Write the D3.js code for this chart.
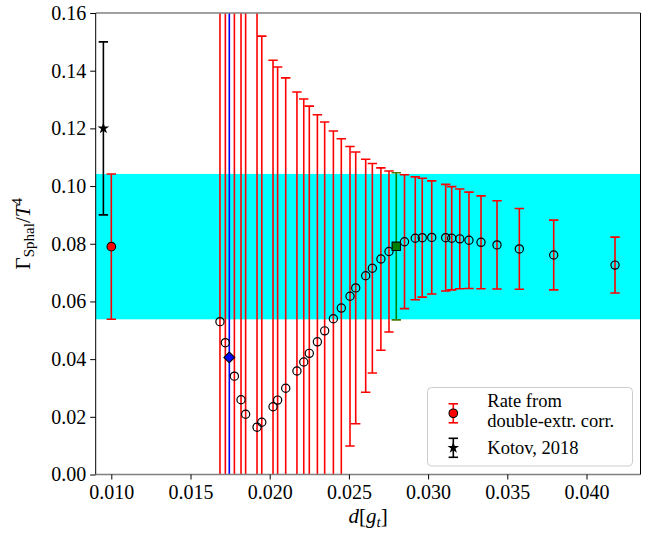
<!DOCTYPE html>
<html>
<head>
<meta charset="utf-8">
<script src="https://cdn.jsdelivr.net/npm/d3@7"></script>
<style>
  body { margin: 0; background: #fff; }
  svg { display: block; }
</style>
</head>
<body>
<svg id="chart" width="659" height="535"></svg>
<script>
// Sphaleron rate from the double-extrapolated correlator, per lattice spacing d[g_t]
const dValues = [0.01686, 0.01720, 0.01777, 0.01819, 0.01848, 0.01920, 0.01950, 0.02021,
  0.02050, 0.02101, 0.02172, 0.02215, 0.02250, 0.02301, 0.02347, 0.02402, 0.02452, 0.02507,
  0.02543, 0.02606, 0.02648, 0.02702, 0.02753, 0.02851, 0.02919, 0.02963, 0.03023, 0.03111,
  0.03149, 0.03200, 0.03258, 0.03334, 0.03435, 0.03576, 0.03793, 0.04180];
const rateValues = [0.0530, 0.0457, 0.0341, 0.0259, 0.0209, 0.0164, 0.0181, 0.0235,
  0.0258, 0.0299, 0.0359, 0.0390, 0.0420, 0.0460, 0.0498, 0.0540, 0.0577, 0.0618,
  0.0647, 0.0689, 0.0715, 0.0747, 0.0773, 0.0807, 0.0819, 0.0821, 0.0822, 0.0821,
  0.0819, 0.0817, 0.0812, 0.0805, 0.0796, 0.0782, 0.0761, 0.0726];
const rateErrors = [0.30, 0.29, 0.27, 0.24, 0.20, 0.17, 0.1339, 0.1201,
  0.1155, 0.1076, 0.0967, 0.0912, 0.0857, 0.0787, 0.0724, 0.0651, 0.0587, 0.0519,
  0.0471, 0.0404, 0.0363, 0.0316, 0.0279, 0.0232, 0.0213, 0.0206, 0.0196, 0.0185,
  0.0179, 0.0173, 0.0167, 0.0161, 0.0153, 0.0140, 0.0121, 0.0097];

// Continuum result (filled red point) and its band
const finalD = [0.0100];
const finalRate = [0.0790];
const finalErr = [0.0252];
const bandRange = [0.0538, 0.1042];

// Highlighted spacings
const blueD = [0.01745];
const blueRate = [0.0406];
const blueErr = [0.28];
const greenD = [0.02799];
const greenRate = [0.0791];
const greenErr = [0.0255];

// Kotov, 2018
const kotovD = [0.0095];
const kotovRate = [0.120];
const kotovErr = [0.030];

const xTicks = [0.010, 0.015, 0.020, 0.025, 0.030, 0.035, 0.040];
const yTicks = [0.00, 0.02, 0.04, 0.06, 0.08, 0.10, 0.12, 0.14, 0.16];
const xDomain = [0.009015, 0.043409];
const yDomain = [0, 0.16];

const legendLabels = [["Rate from", "double-extr. corr."], ["Kotov, 2018"]];

// ---------------------------------------------------------------
const FONT = "Liberation Serif";
const svg = d3.select("#chart");
const plot = { left: 95.7, right: 640.5, top: 13, bottom: 474.5 };

const x = d3.scaleLinear().domain(xDomain).range([plot.left, plot.right]);
const y = d3.scaleLinear().domain(yDomain).range([plot.bottom, plot.top]);

svg.append("defs").append("clipPath").attr("id", "plotClip")
  .append("rect")
  .attr("x", plot.left).attr("y", plot.top)
  .attr("width", plot.right - plot.left).attr("height", plot.bottom - plot.top);

const area = svg.append("g").attr("clip-path", "url(#plotClip)");

// uncertainty band of the final result
area.append("rect")
  .attr("x", plot.left)
  .attr("width", plot.right - plot.left)
  .attr("y", y(bandRange[1]))
  .attr("height", y(bandRange[0]) - y(bandRange[1]))
  .attr("fill", "#00ffff");

const capHalf = 4.7;
function errorBars(g, pts, color, width, capColor) {
  const bars = g.append("g");
  bars.selectAll("line.v").data(pts).join("line")
    .attr("x1", d => x(d.d)).attr("x2", d => x(d.d))
    .attr("y1", d => y(d.v - d.e)).attr("y2", d => y(d.v + d.e))
    .attr("stroke", color).attr("stroke-width", width);
  ["lo", "hi"].forEach(side => {
    bars.selectAll("line." + side).data(pts).join("line")
      .attr("x1", d => x(d.d) - capHalf).attr("x2", d => x(d.d) + capHalf)
      .attr("y1", d => y(side === "lo" ? d.v - d.e : d.v + d.e))
      .attr("y2", d => y(side === "lo" ? d.v - d.e : d.v + d.e))
      .attr("stroke", capColor || color).attr("stroke-width", width);
  });
}

const zip = (ds, vs, es) => ds.map((d, i) => ({ d, v: vs[i], e: es[i] }));
const ratePts = zip(dValues, rateValues, rateErrors);
const finalPts = zip(finalD, finalRate, finalErr);
const bluePts = zip(blueD, blueRate, blueErr);
const greenPts = zip(greenD, greenRate, greenErr);
const kotovPts = zip(kotovD, kotovRate, kotovErr);

errorBars(area, ratePts, "#ff0000", 1.6);
errorBars(area, finalPts, "#ff0000", 1.6);
errorBars(area, bluePts, "#0000ff", 1.6);
errorBars(area, greenPts, "#008000", 1.6, "#4d7a00");
errorBars(area, kotovPts, "#000000", 1.6);

// markers
area.append("g").selectAll("circle").data(ratePts).join("circle")
  .attr("cx", d => x(d.d)).attr("cy", d => y(d.v)).attr("r", 4.1)
  .attr("fill", "none").attr("stroke", "#000").attr("stroke-width", 1.2);

area.append("g").selectAll("circle").data(finalPts).join("circle")
  .attr("cx", d => x(d.d)).attr("cy", d => y(d.v)).attr("r", 4.3)
  .attr("fill", "#ff0000").attr("stroke", "#000").attr("stroke-width", 1.1);

area.append("g").selectAll("path").data(bluePts).join("path")
  .attr("d", d3.symbol(d3.symbolSquare, 58)())
  .attr("transform", d => `translate(${x(d.d)},${y(d.v)}) rotate(45)`)
  .attr("fill", "#0000ff").attr("stroke", "#000").attr("stroke-width", 1.1);

area.append("g").selectAll("path").data(greenPts).join("path")
  .attr("d", d3.symbol(d3.symbolSquare, 70)())
  .attr("transform", d => `translate(${x(d.d)},${y(d.v)})`)
  .attr("fill", "#008000").attr("stroke", "#000").attr("stroke-width", 1.1);

const starPath = d3.symbol(d3.symbolStar, 42)();
area.append("g").selectAll("path").data(kotovPts).join("path")
  .attr("d", starPath)
  .attr("transform", d => `translate(${x(d.d)},${y(d.v)})`)
  .attr("fill", "#000");

// axes frame
svg.append("line").attr("x1", plot.left).attr("x2", plot.right)
  .attr("y1", plot.top).attr("y2", plot.top).attr("stroke", "#808080").attr("stroke-width", 1.6);
svg.append("line").attr("x1", plot.left).attr("x2", plot.right)
  .attr("y1", plot.bottom).attr("y2", plot.bottom).attr("stroke", "#808080").attr("stroke-width", 1.6);
svg.append("line").attr("x1", plot.left).attr("x2", plot.left)
  .attr("y1", plot.top).attr("y2", plot.bottom).attr("stroke", "#000").attr("stroke-width", 1);
svg.append("line").attr("x1", plot.right).attr("x2", plot.right)
  .attr("y1", plot.top).attr("y2", plot.bottom).attr("stroke", "#000").attr("stroke-width", 1);

const xAxis = d3.axisBottom(x).tickValues(xTicks).tickFormat(d3.format(".3f"))
  .tickSize(5).tickPadding(5);
const gx = svg.append("g").attr("transform", `translate(0,${plot.bottom})`).call(xAxis)
  .attr("font-family", FONT).attr("font-size", 20);
gx.select(".domain").remove();
gx.selectAll(".tick line").attr("stroke", "#000").attr("stroke-width", 1);
gx.selectAll(".tick text").attr("font-family", FONT).attr("font-size", 20).attr("fill", "#000");

const yAxis = d3.axisLeft(y).tickValues(yTicks).tickFormat(d3.format(".2f"))
  .tickSize(5.5).tickPadding(4);
const gy = svg.append("g").attr("transform", `translate(${plot.left},0)`).call(yAxis)
  .attr("font-family", FONT).attr("font-size", 20);
gy.select(".domain").remove();
gy.selectAll(".tick line").attr("stroke", "#000").attr("stroke-width", 1);
gy.selectAll(".tick text").attr("font-family", FONT).attr("font-size", 20).attr("fill", "#000");

// axis titles
const xl = svg.append("text").attr("x", (plot.left + plot.right) / 2).attr("y", 523)
  .attr("text-anchor", "middle").attr("font-size", 21).attr("font-family", FONT);
xl.append("tspan").attr("font-style", "italic").text("d");
xl.append("tspan").text("[");
xl.append("tspan").attr("font-style", "italic").text("g");
xl.append("tspan").attr("font-style", "italic").attr("font-size", 15).attr("dy", 4).text("t");
xl.append("tspan").attr("dy", -4).text("]");

const yl = svg.append("text")
  .attr("transform", `translate(30,${(plot.top + plot.bottom) / 2 - 10}) rotate(-90)`)
  .attr("text-anchor", "middle").attr("font-size", 21).attr("font-family", FONT);
yl.append("tspan").text("Γ");
yl.append("tspan").attr("font-size", 15).attr("dy", 4).text("Sphal");
yl.append("tspan").attr("dy", -4).text("/");
yl.append("tspan").attr("font-style", "italic").text("T");
yl.append("tspan").attr("font-size", 15).attr("dy", -8).text("4");

// legend
const lg = svg.append("g");
lg.append("rect").attr("x", 427.5).attr("y", 387.5).attr("width", 205).attr("height", 78.5)
  .attr("rx", 4).attr("fill", "#fff").attr("fill-opacity", 0.8)
  .attr("stroke", "#cccccc").attr("stroke-width", 1);

const legendKeys = [
  { cx: 453.3, cy: 413.3, color: "#ff0000", marker: "circle" },
  { cx: 453.3, cy: 447.8, color: "#000000", marker: "star" }
];
legendKeys.forEach(k => {
  lg.append("line").attr("x1", k.cx).attr("x2", k.cx).attr("y1", k.cy - 9.5).attr("y2", k.cy + 9.5)
    .attr("stroke", k.color).attr("stroke-width", 1.6);
  [-9.5, 9.5].forEach(o => lg.append("line")
    .attr("x1", k.cx - capHalf).attr("x2", k.cx + capHalf)
    .attr("y1", k.cy + o).attr("y2", k.cy + o)
    .attr("stroke", k.color).attr("stroke-width", 1.6));
  if (k.marker === "circle") {
    lg.append("circle").attr("cx", k.cx).attr("cy", k.cy).attr("r", 4.3)
      .attr("fill", "#ff0000").attr("stroke", "#000").attr("stroke-width", 1.1);
  } else {
    lg.append("path").attr("d", starPath).attr("transform", `translate(${k.cx},${k.cy})`)
      .attr("fill", "#000");
  }
});
const lt1 = lg.append("text").attr("x", 487.3).attr("y", 407).attr("font-size", 18.5)
  .attr("font-family", FONT);
lt1.append("tspan").attr("x", 487.3).text(legendLabels[0][0]);
lt1.append("tspan").attr("x", 487.3).attr("dy", 19.5).text(legendLabels[0][1]);
lg.append("text").attr("x", 487.3).attr("y", 454).attr("font-size", 18.5)
  .attr("font-family", FONT).text(legendLabels[1][0]);
</script>
</body>
</html>
